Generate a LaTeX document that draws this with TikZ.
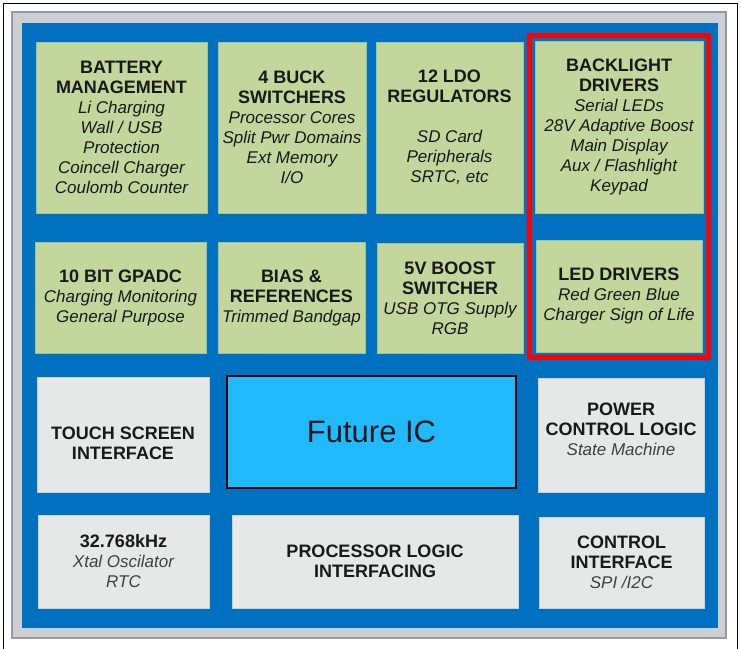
\documentclass[tikz,border=0pt]{standalone}
\usepackage{fontspec}
\setmainfont{Liberation Sans}
\usetikzlibrary{fit}

\definecolor{panelblue}{RGB}{0,112,192}
\definecolor{panelgrey}{RGB}{204,208,213}
\definecolor{blockgreen}{RGB}{195,214,155}
\definecolor{blockgrey}{RGB}{230,231,231}
\definecolor{icblue}{RGB}{33,186,255}

\newcommand{\hd}[1]{{\fontsize{18}{21}\selectfont\bfseries #1}}

\begin{document}
\begin{tikzpicture}[x=1pt,y=-1pt,
 blk/.style={minimum width=#1,inner sep=0pt,align=center,text=black!90,
 font=\fontsize{17}{20}\selectfont},
 green/.style={blk=#1,fill=blockgreen,draw=blockgreen!80!teal,line width=0.6pt},
 grey/.style={blk=#1,fill=blockgrey,draw=blockgrey!90!black,line width=0.6pt},
 redframe/.style={draw=red,line width=5pt,inner sep=5pt}]
\useasboundingbox (0,0) rectangle (741,648);
\fill[white] (0,0) rectangle (741,648);
\draw[black,line width=1pt] (3,650)--(3,3)--(737,3)--(737,650);
\filldraw[fill=panelgrey,draw=black!40,line width=1.2pt] (12,12) rectangle (726,638);
\fill[panelblue] (22,23) rectangle (718,628);

\node[green=171pt,minimum height=171pt] (bat) at (121.5,127.5)
 {\hd{BATTERY}\\\hd{MANAGEMENT}\\\itshape Li Charging\\\itshape Wall / USB\\\itshape Protection\\\itshape Coincell Charger\\\itshape Coulomb Counter};
\node[green=148pt,minimum height=171pt] (buck) at (292,127.5)
 {\hd{4 BUCK}\\\hd{SWITCHERS}\\\itshape Processor Cores\\\itshape Split Pwr Domains\\\itshape Ext Memory\\\itshape I/O};
\node[green=147pt,minimum height=171pt] (ldo) at (449.5,127.5)
 {\hd{12 LDO}\\\hd{REGULATORS}\\[20pt]\itshape SD Card\\\itshape Peripherals\\\itshape SRTC, etc};
\node[green=168pt,minimum height=172pt] (bkl) at (619,127)
 {\hd{BACKLIGHT}\\\hd{DRIVERS}\\\itshape Serial LEDs\\\itshape 28V Adaptive Boost\\\itshape Main Display\\\itshape Aux / Flashlight\\\itshape Keypad};

\node[green=171pt,minimum height=111pt] (adc) at (120.5,297.5)
 {\hd{10 BIT GPADC}\\\itshape Charging Monitoring\\\itshape General Purpose};
\node[green=147pt,minimum height=111pt] (bias) at (291.5,297.5)
 {\hd{BIAS \&}\\\hd{REFERENCES}\\\itshape Trimmed Bandgap};
\node[green=146pt,minimum height=110pt] (boost) at (450,298)
 {\hd{5V BOOST}\\\hd{SWITCHER}\\\itshape USB OTG Supply\\\itshape RGB};
\node[green=166pt,minimum height=112pt] (led) at (619,296)
 {\hd{LED DRIVERS}\\\itshape Red Green Blue\\\itshape Charger Sign of Life};

\node[grey=172pt,minimum height=115pt,text height=50pt] (touch) at (123,434.5)
 {\hd{TOUCH SCREEN}\\\hd{INTERFACE}};
\node[blk=289pt,minimum height=112pt,fill=icblue,draw=black,line width=1.5pt,
 font=\fontsize{31}{36}\selectfont] (fic) at (371.5,432) {Future IC};
\node[grey=166pt,minimum height=114pt,text height=42pt] (pwr) at (621,435)
 {\hd{POWER}\\\hd{CONTROL LOGIC}\\\color{black!75}\itshape State Machine};

\node[grey=171pt,minimum height=93pt] (xtal) at (123.5,561.5)
 {\hd{32.768kHz}\\\color{black!75}\itshape Xtal Oscilator\\\color{black!75}\itshape RTC};
\node[grey=286pt,minimum height=93pt] (proc) at (375,561.5)
 {\hd{PROCESSOR LOGIC}\\\hd{INTERFACING}};
\node[grey=165pt,minimum height=91pt] (ctl) at (621.5,562.5)
 {\hd{CONTROL}\\\hd{INTERFACE}\\\color{black!75}\itshape SPI /I2C};

\node[redframe,fit=(bkl)(led)] (hilite) {};
\end{tikzpicture}
\end{document}
